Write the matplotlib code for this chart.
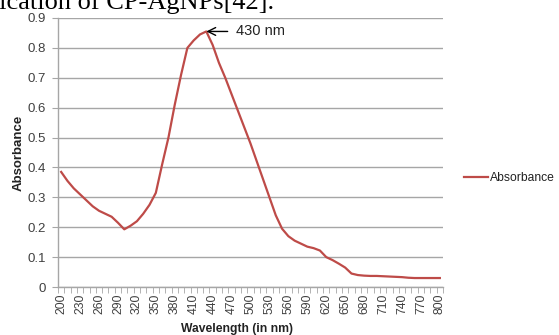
import matplotlib
matplotlib.use("Agg")
import matplotlib.pyplot as plt
import numpy as np

wavelength = list(range(200, 801, 10))
absorbance = [
    0.385, 0.355, 0.330, 0.310, 0.290, 0.270, 0.255, 0.245, 0.235, 0.215,  # 200-290
    0.193, 0.205, 0.220, 0.245, 0.275, 0.315, 0.410, 0.500, 0.610, 0.710,  # 300-390
    0.800, 0.825, 0.845, 0.855, 0.810, 0.750, 0.700, 0.645, 0.590, 0.535,  # 400-490
    0.480, 0.420, 0.360, 0.300, 0.240, 0.195, 0.170, 0.155, 0.145, 0.135,  # 500-590
    0.130, 0.122, 0.100, 0.090, 0.078, 0.065, 0.045, 0.040, 0.038, 0.037,  # 600-690
    0.037, 0.036, 0.035, 0.034, 0.033, 0.031, 0.030, 0.030, 0.030, 0.030,  # 700-790
    0.030,                                                                 # 800
]
xtick_labels = [str(v) for v in range(200, 801, 30)]
ytick_values = [0, 0.1, 0.2, 0.3, 0.4, 0.5, 0.6, 0.7, 0.8, 0.9]
peak_label = "430 nm"
peak_wl = 430
series_name = "Absorbance"

plt.rcParams['font.family'] = ['Liberation Sans', 'DejaVu Sans']

fig = plt.figure(figsize=(5.59, 3.35), dpi=100)
ax = fig.add_axes([58/559, 1-287/335, (443-58)/559, (287-18)/335])

line_color = '#BE4B48'
grid_color = '#A6A6A6'
text_color = '#404040'

ax.plot(wavelength, absorbance, color=line_color, lw=1.6, label=series_name, solid_joinstyle='round')

ax.set_xlim(195, 805)
ax.set_ylim(0, 0.9)
ax.set_yticks(ytick_values)
ax.set_yticklabels(['0'] + [f"{v:.1f}" for v in ytick_values[1:]])
ax.set_xticks([int(l) for l in xtick_labels])
ax.set_xticklabels(xtick_labels, rotation=90)
ax.set_xticks(np.arange(195, 806, 10), minor=True)
ax.tick_params(axis='x', which='major', length=0, pad=5, labelsize=8.7, colors=text_color)
ax.tick_params(axis='x', which='minor', length=4, color=grid_color, direction='out')
ax.tick_params(axis='y', which='major', length=4, color=grid_color, labelsize=9.5, labelcolor=text_color, pad=5)

ax.yaxis.grid(True, color=grid_color, lw=1)
ax.set_axisbelow(True)
for s in ['top', 'right']:
    ax.spines[s].set_visible(False)
for s in ['left', 'bottom']:
    ax.spines[s].set_color(grid_color)
    ax.spines[s].set_linewidth(1)

ax.set_ylabel('Absorbance', fontweight='bold', fontsize=9.5, color='#222222')
ax.yaxis.set_label_coords((25-58)/(443-58), 0.5)
ax.set_xlabel('Wavelength (in nm)', fontweight='bold', fontsize=8.7, color='#222222')
ax.xaxis.set_label_coords((237-58)/(443-58), -0.135)

peak_val = absorbance[wavelength.index(peak_wl)]
ax.annotate(peak_label, xy=(peak_wl, peak_val), xytext=(peak_wl + 47, peak_val),
            fontsize=10.5, color='#222222', va='center', ha='left',
            arrowprops=dict(arrowstyle='->', color='black', lw=1, shrinkA=4, shrinkB=0, mutation_scale=14))

leg = ax.legend(loc='center left', bbox_to_anchor=(1.027, 0.404), frameon=False,
                fontsize=8.7, handlelength=2.0, handletextpad=0.15)
for t in leg.get_texts():
    t.set_color('#222222')

fig.text(274/559, 1-9/335, 'ification of CP-AgNPs[42].', family='Liberation Serif',
         fontsize=19, ha='right', va='baseline', color='black')

fig.savefig('out.png', dpi=100)
